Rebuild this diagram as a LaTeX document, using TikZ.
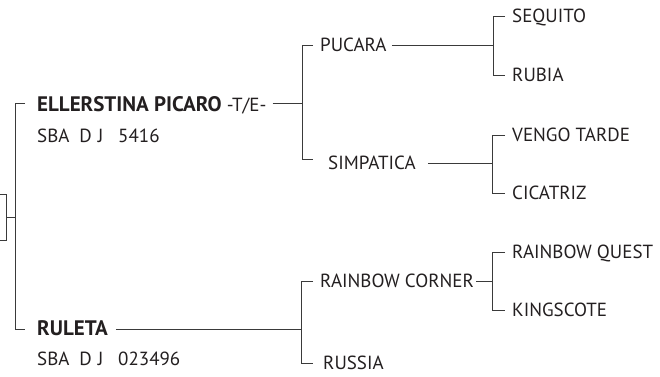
\documentclass[tikz,border=0pt]{standalone}
\usepackage{fontspec}
\setmainfont{PT Sans}
\definecolor{ink}{HTML}{231F20}
\definecolor{rule}{HTML}{3A3A3A}
\tikzset{
 horse/.style={anchor=west, inner sep=0pt, text height=13pt, text depth=0pt,
   font=\fontsize{19}{21}\selectfont, text=ink},
 line/.style={draw=rule, line width=1pt},
}
\newcommand{\bname}[1]{{\fontsize{21}{22}\selectfont\bfseries #1}}
\newcommand{\regno}[1]{\makebox[81pt][l]{SBA\hspace{10pt}D\hspace{6pt}J}#1}
\begin{document}
\begin{tikzpicture}[x=1pt,y=-1pt]
 \useasboundingbox (0,0) rectangle (660,376);

 % forks of the brackets
 \coordinate (fork0) at (15,0);
 \coordinate (fork1) at (302,0);
 \coordinate (fork2) at (493,0);
 \coordinate (fork3) at (492,0);
 \coordinate (fork4) at (301,0);
 \coordinate (fork5) at (492,0);

 \node[draw=rule, line width=1pt, minimum width=20pt, minimum height=46pt, inner sep=0pt]
   (prevbox) at (-4,217) {};

 \node[horse] (ellerstina) at (37,105) {\bname{ELLERSTINA PICARO} -T/E-};
 \node[horse] (sbaA) at (37,136) {\regno{5416}};
 \node[horse] (ruleta) at (37,329) {\bname{RULETA}};
 \node[horse] (sbaB) at (37,359) {\regno{023496}};

 \node[horse] (pucara) at (320,45) {PUCARA};
 \node[horse] (simpatica) at (328,163) {SIMPATICA};
 \node[horse] (rcorner) at (320,281) {RAINBOW CORNER};
 \node[horse] (russia) at (323,363) {RUSSIA};

 \node[horse] (sequito) at (512,16) {SEQUITO};
 \node[horse] (rubia) at (512,75) {RUBIA};
 \node[horse] (vengo) at (512,135) {VENGO TARDE};
 \node[horse] (cicatriz) at (512,193) {CICATRIZ};
 \node[horse] (rquest) at (512,252) {RAINBOW QUEST};
 \node[horse] (kingscote) at (512,310) {KINGSCOTE};

 % left
 \draw[line] (prevbox.east) -- (fork0 |- prevbox.east);
 \draw[line] ([xshift=-12pt,yshift=2pt]ellerstina.west) -- ([yshift=2pt]fork0 |- ellerstina.west)
   -- (fork0 |- ruleta.west) -- ([xshift=-12pt]ruleta.west);

 % sire side
 \draw[line] ([xshift=6pt,yshift=2pt]ellerstina.east) -- ([yshift=2pt]fork1 |- ellerstina.east);
 \draw[line] ([xshift=-7pt]pucara.west) -- (fork1 |- pucara.west)
   -- ([yshift=4pt]fork1 |- simpatica.west) -- ([xshift=-15pt,yshift=4pt]simpatica.west);

 \draw[line] ([xshift=5pt]pucara.east) -- (fork2 |- pucara.east);
 \draw[line] ([xshift=-7pt]sequito.west) -- (fork2 |- sequito.west)
   -- (fork2 |- rubia.west) -- ([xshift=-7pt]rubia.west);

 \draw[line] ([xshift=12pt]simpatica.east) -- (fork3 |- simpatica.east);
 \draw[line] ([xshift=-7pt]vengo.west) -- (fork3 |- vengo.west)
   -- (fork3 |- cicatriz.west) -- ([xshift=-7pt]cicatriz.west);

 % dam side
 \draw[line] ([xshift=8pt]ruleta.east) -- (fork4 |- ruleta.east);
 \draw[line] ([xshift=-7pt]rcorner.west) -- (fork4 |- rcorner.west)
   -- (fork4 |- russia.west) -- ([xshift=-10pt]russia.west);

 \draw[line] ([xshift=2pt]rcorner.east) -- (fork5 |- rcorner.east);
 \draw[line] ([xshift=-7pt]rquest.west) -- (fork5 |- rquest.west)
   -- (fork5 |- kingscote.west) -- ([xshift=-7pt]kingscote.west);
\end{tikzpicture}
\end{document}
